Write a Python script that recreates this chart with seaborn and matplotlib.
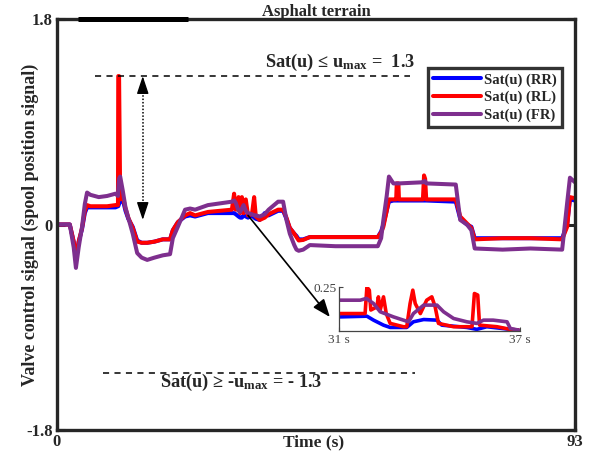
import numpy as np
import pandas as pd
import matplotlib
matplotlib.use("Agg")
import matplotlib.pyplot as plt
import seaborn as sns

# ---------------- data ----------------
t_main = [0.0, 2.3, 3.0, 3.4, 3.9, 4.5, 5.0, 5.4, 6.0, 7.5, 9.0, 10.5, 10.95, 11.0, 11.15,
          11.35, 11.8, 12.3, 12.8, 13.6, 14.4, 15.2, 16.2, 17.5, 19.0, 20.3, 20.8, 21.7,
          23.0, 23.9, 24.8, 27.1, 31.4, 31.8, 32.1, 32.6, 32.9, 33.2, 33.5, 33.9, 34.3,
          35.0, 35.4, 35.7, 36.4, 37.3, 38.0, 39.7, 40.6, 41.2, 41.8, 42.6, 43.0, 43.4,
          44.2, 45.4, 50.0, 55.0, 57.6, 58.2, 58.6, 59.2, 59.6, 60.4, 60.9, 61.0, 61.3,
          61.4, 65.7, 65.9, 66.1, 66.3, 71.6, 72.4, 73.6, 74.4, 75.0, 80.0, 85.0, 90.7,
          91.6, 92.1, 93.0]
rr_main = [0, 0, -0.15, -0.30, -0.15, -0.04, 0.10, 0.15, 0.15, 0.15, 0.15, 0.15, 0.16, 0.16, 0.18,
           0.20, 0.22, 0.12, 0.05, -0.02, -0.14, -0.16, -0.16, -0.15, -0.13, -0.13, -0.05, 0.02,
           0.07, 0.08, 0.07, 0.10, 0.10, 0.10, 0.09, 0.07, 0.06, 0.06, 0.08, 0.07, 0.06,
           0.08, 0.06, 0.05, 0.04, 0.10, 0.08, 0.12, 0.12, 0.05, -0.03, -0.08, -0.10, -0.13,
           -0.13, -0.11, -0.11, -0.11, -0.11, -0.06, 0.0, 0.12, 0.20, 0.21, 0.21, 0.21, 0.21,
           0.21, 0.21, 0.21, 0.21, 0.21, 0.20, 0.05, 0.0, -0.02, -0.12, -0.12, -0.12, -0.12,
           0.0, 0.22, 0.21]
rl_main = [0, 0, -0.15, -0.30, -0.15, -0.03, 0.12, 0.17, 0.16, 0.16, 0.16, 0.17, 0.17, 1.30, 1.30,
           0.22, 0.25, 0.14, 0.06, -0.03, -0.15, -0.16, -0.16, -0.15, -0.13, -0.13, -0.05, 0.02,
           0.08, 0.10, 0.08, 0.11, 0.13, 0.27, 0.13, 0.24, 0.10, 0.24, 0.10, 0.22, 0.08,
           0.09, 0.24, 0.07, 0.04, 0.06, 0.09, 0.13, 0.13, 0.06, -0.03, -0.08, -0.11, -0.14,
           -0.135, -0.11, -0.11, -0.11, -0.11, -0.07, -0.02, 0.12, 0.22, 0.22, 0.22, 0.36, 0.36,
           0.22, 0.22, 0.43, 0.40, 0.22, 0.22, 0.07, 0.01, -0.03, -0.13, -0.12, -0.12, -0.13,
           -0.02, 0.24, 0.23]
fr_main = [0, 0, -0.20, -0.38, -0.20, -0.02, 0.18, 0.28, 0.26, 0.24, 0.25, 0.27, 0.25, 0.30, 0.40,
           0.42, 0.30, 0.15, 0.06, -0.08, -0.25, -0.29, -0.31, -0.29, -0.27, -0.26, -0.12, -0.02,
           0.13, 0.14, 0.13, 0.17, 0.20, 0.21, 0.19, 0.12, 0.11, 0.14, 0.17, 0.12, 0.10,
           0.09, 0.08, 0.08, 0.07, 0.09, 0.13, 0.20, 0.20, 0.04, -0.08, -0.18, -0.22, -0.23,
           -0.22, -0.18, -0.19, -0.19, -0.19, -0.12, 0.04, 0.25, 0.42, 0.36, 0.36, 0.36, 0.36,
           0.36, 0.37, 0.38, 0.38, 0.36, 0.35, 0.04, 0.0, -0.05, -0.21, -0.22, -0.21, -0.22,
           0.19, 0.41, 0.37]

# inset (zoom of 31 s - 37 s)
t_fr_zoom = [31.03, 31.7, 31.9, 32.14, 32.36, 32.8, 33.13, 33.3, 33.46, 33.8, 34.24, 34.46,
             34.79, 35.23, 35.56, 35.78, 36.1, 36.56, 36.67, 36.94]
fr_zoom = [0.176, 0.176, 0.186, 0.157, 0.11, 0.081, 0.0625, 0.053, 0.10, 0.148, 0.148, 0.11,
           0.072, 0.053, 0.044, 0.0625, 0.0625, 0.053, 0.015, 0.006]
t_rl_zoom = [31.03, 31.86, 31.92, 32.0, 32.05, 32.25, 32.3, 32.36, 32.47, 32.56, 32.69, 33.13,
             33.24, 33.35, 33.44, 33.52, 33.69, 33.9, 34.07, 34.18, 34.29, 34.79, 35.4, 35.48,
             35.59, 35.65, 36.23, 36.67, 36.94]
rl_zoom = [0.10, 0.10, 0.25, 0.233, 0.12, 0.138, 0.195, 0.12, 0.195, 0.10, 0.044, 0.025,
           0.025, 0.157, 0.233, 0.157, 0.10, 0.176, 0.195, 0.138, 0.044, 0.025, 0.025, 0.214,
           0.205, 0.034, 0.025, 0.01, 0.006]
t_rr_zoom = [31.03, 31.92, 32.14, 32.47, 32.69, 33.24, 33.46, 33.8, 34.24, 34.4, 35.23, 35.56,
             35.89, 36.67, 36.94]
rr_zoom = [0.081, 0.085, 0.0625, 0.034, 0.021, 0.021, 0.053, 0.066, 0.0625, 0.034, 0.021, 0.01,
           0.025, 0.01, 0.006]

series_names = ["Sat(u) (RR)", "Sat(u) (RL)", "Sat(u) (FR)"]
series_colors = ["#0000FF", "#FF0000", "#7E2F8E"]

y_ticks = [-1.8, 0, 1.8]
x_ticks = [0, 93]
u_max = 1.3

# ---------------- style ----------------
sns.set_theme(style="white")
plt.rcParams["font.family"] = ["Liberation Serif", "DejaVu Serif"]
plt.rcParams["mathtext.fontset"] = "custom"
plt.rcParams["mathtext.rm"] = "Liberation Serif:bold"
plt.rcParams["mathtext.it"] = "Liberation Serif:bold"
plt.rcParams["mathtext.bf"] = "Liberation Serif:bold"

palette = dict(zip(series_names, series_colors))

df = pd.concat([
    pd.DataFrame({"t": t_main, "v": rr_main, "s": series_names[0]}),
    pd.DataFrame({"t": t_main, "v": rl_main, "s": series_names[1]}),
    pd.DataFrame({"t": t_main, "v": fr_main, "s": series_names[2]}),
], ignore_index=True)

dz = pd.concat([
    pd.DataFrame({"t": t_rr_zoom, "v": rr_zoom, "s": series_names[0]}),
    pd.DataFrame({"t": t_rl_zoom, "v": rl_zoom, "s": series_names[1]}),
    pd.DataFrame({"t": t_fr_zoom, "v": fr_zoom, "s": series_names[2]}),
], ignore_index=True)

fig = plt.figure(figsize=(5.96, 4.58), dpi=100)
ax = fig.add_axes([0.0956, 0.0611, 0.8691, 0.8974])

sns.lineplot(data=df, x="t", y="v", hue="s", palette=palette, hue_order=series_names,
             estimator=None, sort=False, linewidth=2.9, ax=ax, legend=True)

ax.set_xlim(0, 93)
ax.set_ylim(-1.8, 1.8)
ax.set_xticks(x_ticks)
ax.set_xticklabels([str(v) for v in x_ticks], fontweight="bold", fontsize=12)
ax.set_yticks(y_ticks)
ax.set_yticklabels(["-1.8", "0", "1.8"], fontweight="bold", fontsize=12)
ax.tick_params(axis="both", direction="in", length=6, width=2.2, color="#262626",
               left=True, right=True, bottom=True, pad=3)
ax.tick_params(axis="y", right=True, labelright=False)

for sp in ax.spines.values():
    sp.set_linewidth(2.4)
    sp.set_color("#262626")

ax.set_xlabel("Time (s)", fontweight="bold", fontsize=12.5)
ax.set_ylabel("Valve control signal (spool position signal)", fontweight="bold", fontsize=13)
ax.xaxis.set_label_coords(0.496, -0.01)
ax.yaxis.set_label_coords(-0.035, 0.5)
ax.set_title("Asphalt terrain", fontweight="bold", fontsize=12, pad=2)

# dark segment on top frame
ax.plot([3.8, 23.5], [1.8, 1.8], color="black", lw=3.6, clip_on=False,
        solid_capstyle="butt", zorder=5)

# saturation limits
ax.plot([6.8, 63.4], [u_max, u_max], color="black", lw=1.1, ls=(0, (4, 3.5)))
ax.plot([8.3, 64.3], [-u_max, -u_max], color="black", lw=1.1, ls=(0, (4, 3.5)))
ax.text(37.3, 1.38, "Sat(u) \u2264 u$_{\\mathregular{max}}$ =  1.3", fontweight="bold",
        fontsize=13.2, ha="left", va="baseline")
ax.text(18.5, -1.42, "Sat(u) \u2265 -u$_{\\mathregular{max}}$ = - 1.3", fontweight="bold",
        fontsize=13.2, ha="left", va="baseline")

# dotted double arrow
ax.plot([15.4, 15.4], [0.12, 1.22], color="black", lw=1.1, ls=(0, (1, 1.2)))
ax.annotate("", xy=(15.4, 1.3), xytext=(15.4, 1.2),
            arrowprops=dict(arrowstyle="-|>,head_length=0.9,head_width=0.3",
                            color="black", lw=1.0, shrinkA=0, shrinkB=0))
ax.annotate("", xy=(15.4, 0.04), xytext=(15.4, 0.14),
            arrowprops=dict(arrowstyle="-|>,head_length=0.9,head_width=0.3",
                            color="black", lw=1.0, shrinkA=0, shrinkB=0))

# arrow to inset
ax.annotate("", xy=(49.0, -0.81), xytext=(34.3, 0.08),
            arrowprops=dict(arrowstyle="-|>,head_length=0.9,head_width=0.35",
                            color="black", lw=1.2, shrinkA=0, shrinkB=0))

# legend
leg = ax.legend(loc="upper right", bbox_to_anchor=(0.975, 0.881), frameon=True,
                fancybox=False, handlelength=3.3, handletextpad=0.2, borderpad=0.35,
                labelspacing=0.3, borderaxespad=0,
                prop={"family": "Liberation Serif", "weight": "bold", "size": 10.5})
leg.get_frame().set_edgecolor("black")
leg.get_frame().set_linewidth(2.4)
for line in leg.get_lines():
    line.set_linewidth(2.9)

# inset
axins = fig.add_axes([0.569, 0.277, 0.304, 0.096])
sns.lineplot(data=dz, x="t", y="v", hue="s", palette=palette, hue_order=series_names,
             estimator=None, sort=False, linewidth=2.6, ax=axins, legend=False)
axins.set_xlim(31, 37)
axins.set_ylim(0, 0.25)
axins.set_xticks([31, 37])
axins.set_xticklabels(["31 s", "37 s"], fontsize=9.5, color="#444444")
axins.set_yticks([0.25])
axins.set_yticklabels(["0.25"], fontsize=9.5, color="#444444")
axins.set_xlabel("")
axins.set_ylabel("")
axins.tick_params(direction="in", length=3, width=0.8, color="#444444", pad=2,
                  left=True, bottom=True)
axins.patch.set_alpha(0)
for k in ["top", "right"]:
    axins.spines[k].set_visible(False)
for k in ["left", "bottom"]:
    axins.spines[k].set_color("#444444")
    axins.spines[k].set_linewidth(0.9)

fig.savefig("out.png", dpi=100)
